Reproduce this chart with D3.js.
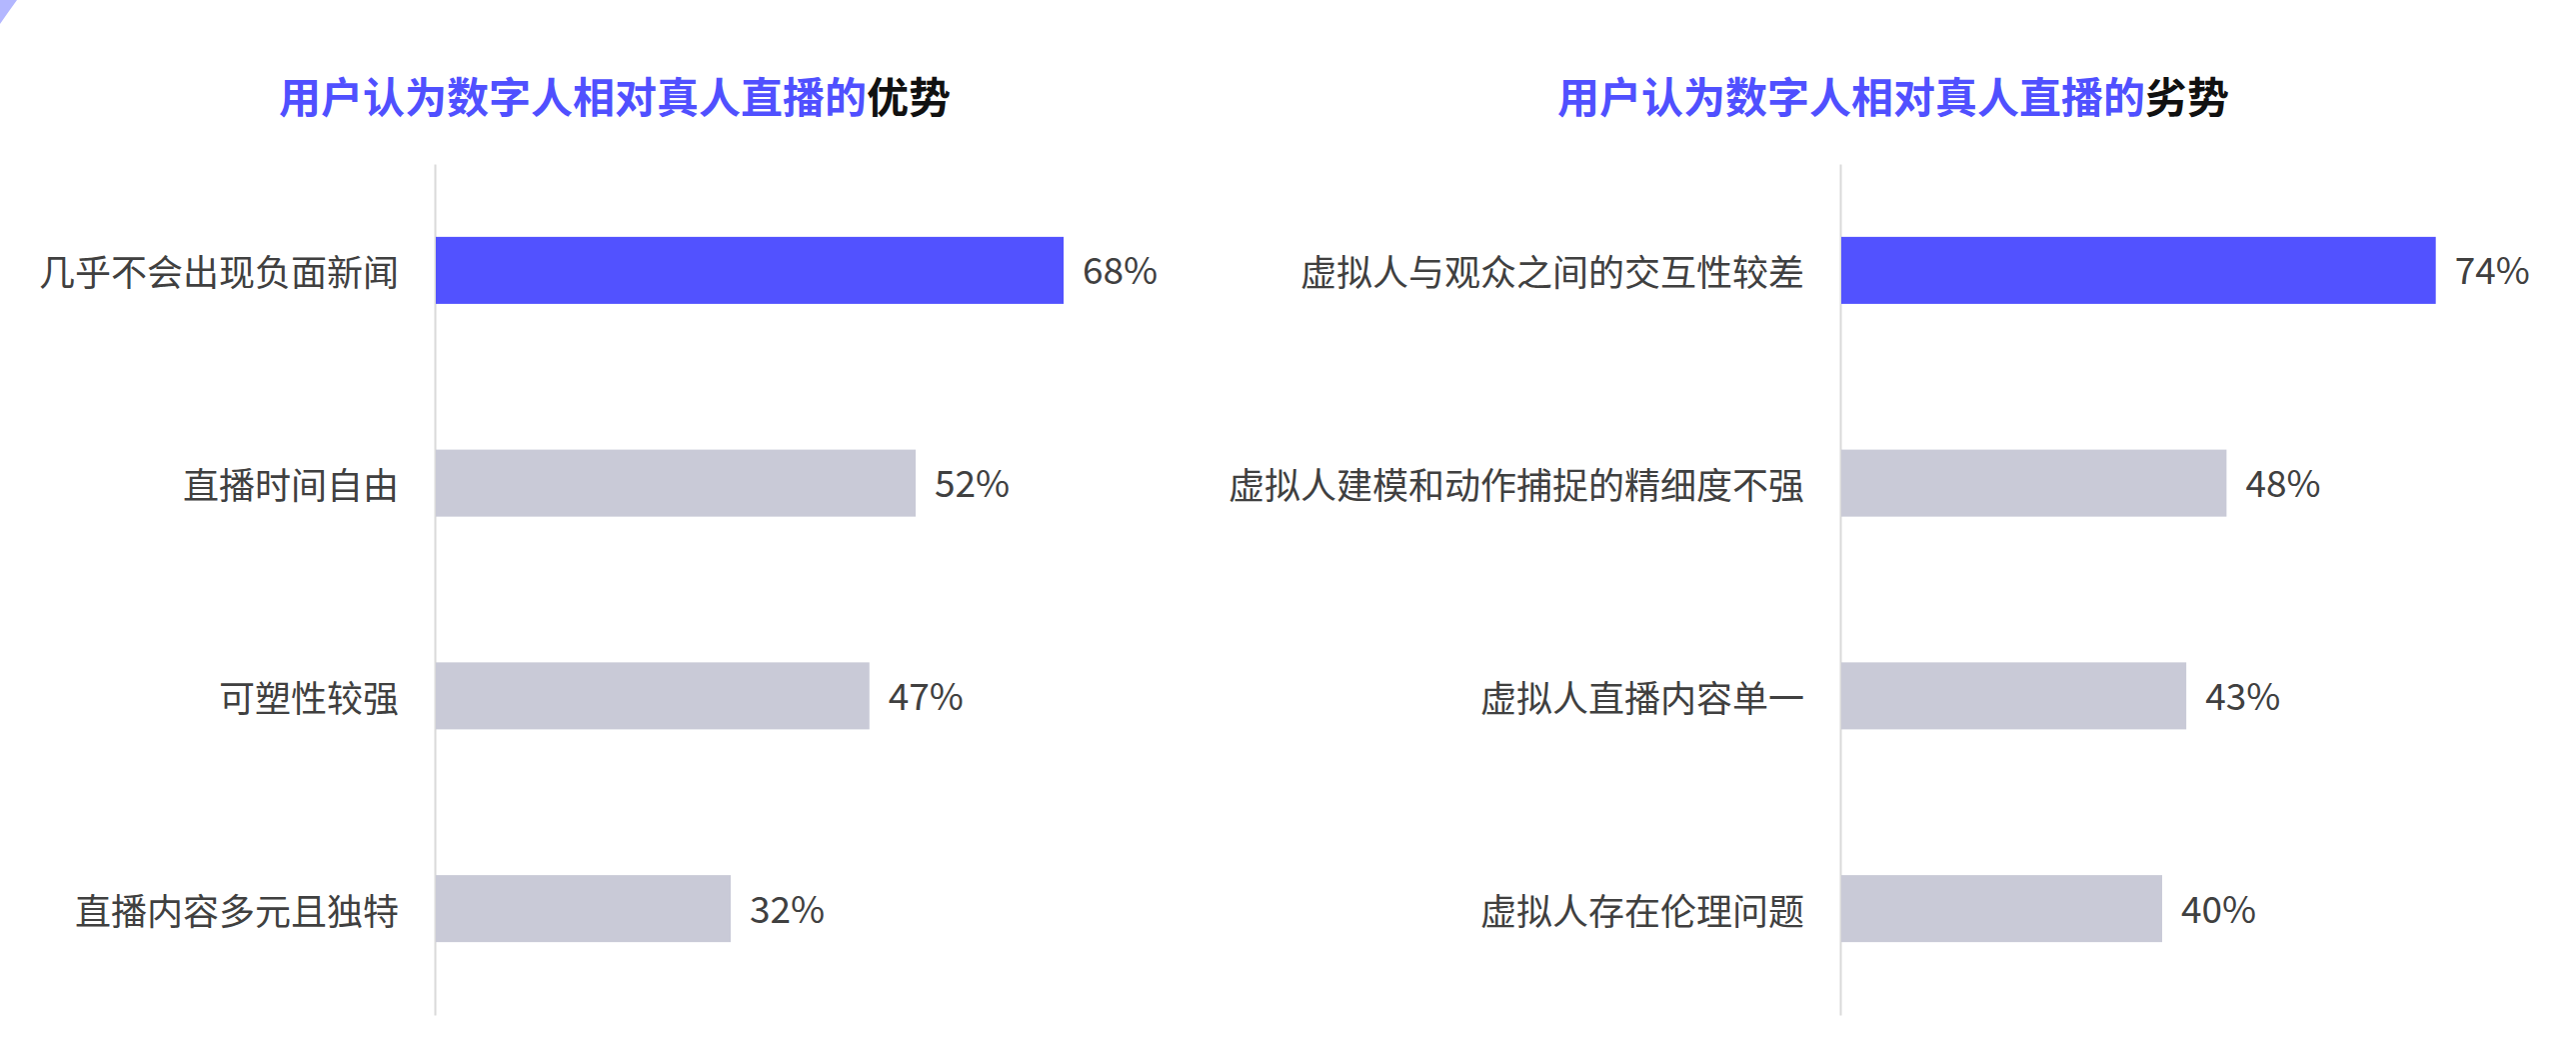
<!DOCTYPE html>
<html>
<head>
<meta charset="utf-8">
<script src="https://cdn.jsdelivr.net/npm/d3@7/dist/d3.min.js"></script>
<style>
  html, body { margin: 0; padding: 0; background: #ffffff; }
  svg { display: block; }
</style>
</head>
<body>
<svg id="chart" width="2577" height="1041"></svg>
<script>
// ---- Data ----
const leftTitleMain = "用户认为数字人相对真人直播的";
const leftTitleEnd = "优势";
const leftCategories = ["几乎不会出现负面新闻", "直播时间自由", "可塑性较强", "直播内容多元且独特"];
const leftValues = [68, 52, 47, 32];

const rightTitleMain = "用户认为数字人相对真人直播的";
const rightTitleEnd = "劣势";
const rightCategories = ["虚拟人与观众之间的交互性较差", "虚拟人建模和动作捕捉的精细度不强", "虚拟人直播内容单一", "虚拟人存在伦理问题"];
const rightValues = [74, 48, 43, 40];

// ---- Styles ----
const BLUE = "#5252FF";
const GRAY = "#C9CAD7";
const TEXT = "#404040";
const FONT = "'Noto Sans CJK SC', 'Noto Sans', sans-serif";

const svg = d3.select("#chart");

// corner decoration
svg.append("path")
  .attr("d", "M0,0 L17,0 Q9,11 0,24 Z")
  .attr("fill", "#B3B7FF");

function drawPanel(cfg) {
  const g = svg.append("g");
  const y = d3.scaleBand()
    .domain(cfg.categories)
    .range([164, 1015])
    .paddingInner(0.685)
    .paddingOuter(0.3425);
  const x = d3.scaleLinear().domain([0, 100]).range(cfg.xRange);

  // title
  const t = g.append("text")
    .attr("x", cfg.titleX)
    .attr("y", 94)
    .attr("text-anchor", "middle")
    .attr("dominant-baseline", "central")
    .attr("font-family", FONT)
    .attr("font-weight", 700)
    .attr("font-size", 42);
  t.append("tspan").attr("fill", "#5050FF").text(cfg.titleMain);
  t.append("tspan").attr("fill", "#111111").text(cfg.titleEnd);

  // axis line (y axis)
  const axis = d3.axisLeft(y).tickSize(0).tickPadding(36);
  const ag = g.append("g")
    .attr("transform", `translate(${x(0)},0)`)
    .call(axis);
  ag.select(".domain").attr("stroke", "#DADADA").attr("stroke-width", 2);
  ag.selectAll(".tick text")
    .attr("font-family", FONT)
    .attr("font-size", 36)
    .attr("fill", TEXT)
    .attr("dy", null)
    .attr("dominant-baseline", "central");

  const data = cfg.categories.map((c, i) => ({ c, v: cfg.values[i], i }));

  g.selectAll("rect.bar")
    .data(data)
    .join("rect")
    .attr("class", "bar")
    .attr("x", x(0) + 1)
    .attr("y", d => y(d.c))
    .attr("width", d => x(d.v) - x(0) - 1)
    .attr("height", y.bandwidth())
    .attr("fill", d => d.i === 0 ? BLUE : GRAY);

  g.selectAll("text.val")
    .data(data)
    .join("text")
    .attr("class", "val")
    .attr("x", d => x(d.v) + 19)
    .attr("y", d => y(d.c) + y.bandwidth() / 2 + 14)
    .attr("font-family", FONT)
    .attr("font-size", 37)
    .attr("fill", TEXT)
    .text(d => d.v + "%");
}

drawPanel({
  categories: leftCategories,
  values: leftValues,
  xRange: [435, 1360],
  titleX: 615,
  titleMain: leftTitleMain,
  titleEnd: leftTitleEnd
});

drawPanel({
  categories: rightCategories,
  values: rightValues,
  xRange: [1841, 2646],
  titleX: 1894,
  titleMain: rightTitleMain,
  titleEnd: rightTitleEnd
});
</script>
</body>
</html>
